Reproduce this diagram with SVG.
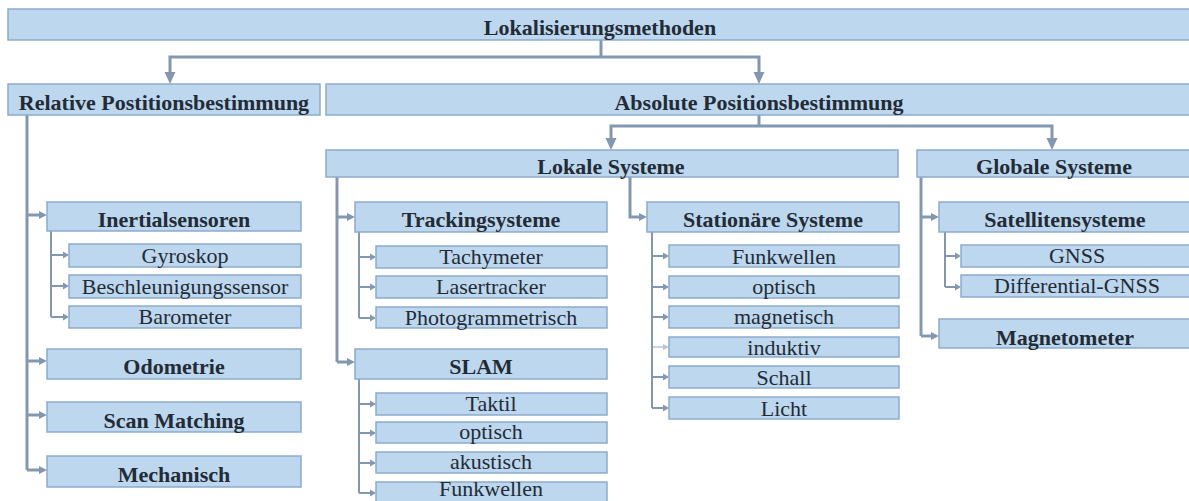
<svg xmlns="http://www.w3.org/2000/svg" width="1189" height="501" viewBox="0 0 1189 501">
  <style>
    .box { fill: #bdd7ee; stroke: #8eaacb; stroke-width: 1.5; }
    .h { font-family: "Liberation Serif", "Times New Roman", serif; font-weight: bold; font-size: 22px; fill: #232b36; text-anchor: middle; }
    .s { font-family: "Liberation Serif", "Times New Roman", serif; font-size: 22px; fill: #232b36; text-anchor: middle; }
    .conn { fill: none; stroke: #8497b0; stroke-width: 3; stroke-linejoin: miter; }
    .thin { stroke-width: 2; }
    .faint { stroke: #c9d3df; }
  </style>
  <defs>
    <marker id="ah-big" markerUnits="userSpaceOnUse" markerWidth="12" markerHeight="12" viewBox="0 -6 12 12" refX="0" refY="0" orient="auto" overflow="visible">
      <path d="M0,-5.5 L12,0 L0,5.5z" fill="#8497b0"/>
    </marker>
    <marker id="ah-mid" markerUnits="userSpaceOnUse" markerWidth="8" markerHeight="8" viewBox="0 -4 8 8" refX="0" refY="0" orient="auto" overflow="visible">
      <path d="M0,-4 L8,0 L0,4z" fill="#8497b0"/>
    </marker>
    <marker id="ah-small" markerUnits="userSpaceOnUse" markerWidth="6" markerHeight="6" viewBox="0 -3 6 6" refX="0" refY="0" orient="auto" overflow="visible">
      <path d="M0,-3.5 L6,0 L0,3.5z" fill="#8497b0"/>
    </marker>
    <marker id="ah-faint" markerUnits="userSpaceOnUse" markerWidth="6" markerHeight="6" viewBox="0 -3 6 6" refX="0" refY="0" orient="auto" overflow="visible">
      <path d="M0,-3 L6,0 L0,3z" fill="#b7c3d2"/>
    </marker>
  </defs>

  <!-- connectors -->
  <g id="connectors">
    <!-- root to the two main branches -->
    <path class="conn" d="M601,40 V57"/>
    <path class="conn" d="M601,57 H170 V72" marker-end="url(#ah-big)"/>
    <path class="conn" d="M601,57 H759 V72" marker-end="url(#ah-big)"/>
    <!-- absolute to local / global -->
    <path class="conn" d="M759,115 V126"/>
    <path class="conn" d="M759,126 H611 V138" marker-end="url(#ah-big)"/>
    <path class="conn" d="M759,126 H1052 V138" marker-end="url(#ah-big)"/>

    <!-- relative positioning column -->
    <path class="conn" d="M27,115 V470"/>
    <path class="conn" d="M27,215 H39" marker-end="url(#ah-mid)"/>
    <path class="conn" d="M27,361 H39" marker-end="url(#ah-mid)"/>
    <path class="conn" d="M27,415 H39" marker-end="url(#ah-mid)"/>
    <path class="conn" d="M27,470 H39" marker-end="url(#ah-mid)"/>
    <!-- inertial sensors -->
    <path class="conn thin" d="M51,231 V317"/>
    <path class="conn thin" d="M51,255 H63" marker-end="url(#ah-small)"/>
    <path class="conn thin" d="M51,286 H63" marker-end="url(#ah-small)"/>
    <path class="conn thin" d="M51,317 H63" marker-end="url(#ah-small)"/>

    <!-- local systems -->
    <path class="conn" d="M337,177 V362"/>
    <path class="conn" d="M337,217 H347" marker-end="url(#ah-mid)"/>
    <path class="conn" d="M337,362 H347" marker-end="url(#ah-mid)"/>
    <path class="conn" d="M630,177 V217 H639" marker-end="url(#ah-mid)"/>
    <!-- tracking systems -->
    <path class="conn thin" d="M359,232 V318"/>
    <path class="conn thin" d="M359,257 H370" marker-end="url(#ah-small)"/>
    <path class="conn thin" d="M359,287 H370" marker-end="url(#ah-small)"/>
    <path class="conn thin" d="M359,318 H370" marker-end="url(#ah-small)"/>
    <!-- SLAM -->
    <path class="conn thin" d="M359,379 V493"/>
    <path class="conn thin" d="M359,404 H370" marker-end="url(#ah-small)"/>
    <path class="conn thin" d="M359,433 H370" marker-end="url(#ah-small)"/>
    <path class="conn thin" d="M359,463 H370" marker-end="url(#ah-small)"/>
    <path class="conn thin" d="M359,493 H370" marker-end="url(#ah-small)"/>
    <!-- stationary systems -->
    <path class="conn thin" d="M652,232 V408"/>
    <path class="conn thin" d="M652,256 H663" marker-end="url(#ah-small)"/>
    <path class="conn thin" d="M652,287 H663" marker-end="url(#ah-small)"/>
    <path class="conn thin" d="M652,317 H663" marker-end="url(#ah-small)"/>
    <path class="conn thin faint" d="M653,347 H663" marker-end="url(#ah-faint)"/>
    <path class="conn thin" d="M652,377 H663" marker-end="url(#ah-small)"/>
    <path class="conn thin" d="M652,408 H663" marker-end="url(#ah-small)"/>

    <!-- global systems -->
    <path class="conn" d="M921,177 V336"/>
    <path class="conn" d="M921,217 H931" marker-end="url(#ah-mid)"/>
    <path class="conn" d="M921,336 H931" marker-end="url(#ah-mid)"/>
    <!-- satellite systems -->
    <path class="conn thin" d="M945,232 V287"/>
    <path class="conn thin" d="M945,256 H955" marker-end="url(#ah-small)"/>
    <path class="conn thin" d="M945,287 H955" marker-end="url(#ah-small)"/>
  </g>

  <!-- nodes -->
  <g id="root"><rect class="box" x="8" y="9" width="1190" height="31"/><text class="h" x="600" y="35">Lokalisierungsmethoden</text></g>

  <g id="relative"><rect class="box" x="8" y="84" width="312" height="31"/><text class="h" x="164" y="110">Relative Postitionsbestimmung</text></g>
  <g id="absolute"><rect class="box" x="326" y="84" width="870" height="31"/><text class="h" x="759" y="110">Absolute Positionsbestimmung</text></g>

  <g id="inertial"><rect class="box" x="47" y="202" width="254" height="29"/><text class="h" x="174" y="227">Inertialsensoren</text></g>
  <g id="gyro"><rect class="box" x="69" y="244" width="232" height="23"/><text class="s" x="185" y="263">Gyroskop</text></g>
  <g id="accel"><rect class="box" x="69" y="275" width="232" height="23"/><text class="s" x="185" y="294">Beschleunigungssensor</text></g>
  <g id="baro"><rect class="box" x="69" y="306" width="232" height="22"/><text class="s" x="185" y="324">Barometer</text></g>
  <g id="odometry"><rect class="box" x="47" y="349" width="254" height="30"/><text class="h" x="174" y="374">Odometrie</text></g>
  <g id="scanmatch"><rect class="box" x="47" y="402" width="254" height="30"/><text class="h" x="174" y="428">Scan Matching</text></g>
  <g id="mechanical"><rect class="box" x="47" y="456" width="254" height="31"/><text class="h" x="174" y="482">Mechanisch</text></g>

  <g id="local"><rect class="box" x="326" y="150" width="572" height="27"/><text class="h" x="611" y="174">Lokale Systeme</text></g>
  <g id="global"><rect class="box" x="917" y="150" width="280" height="27"/><text class="h" x="1054" y="174">Globale Systeme</text></g>

  <g id="tracking"><rect class="box" x="355" y="202" width="252" height="30"/><text class="h" x="481" y="227">Trackingsysteme</text></g>
  <g id="tachy"><rect class="box" x="376" y="246" width="231" height="22"/><text class="s" x="491" y="264">Tachymeter</text></g>
  <g id="lasertracker"><rect class="box" x="376" y="276" width="231" height="22"/><text class="s" x="491" y="294">Lasertracker</text></g>
  <g id="photogram"><rect class="box" x="376" y="307" width="231" height="21"/><text class="s" x="491" y="325">Photogrammetrisch</text></g>

  <g id="slam"><rect class="box" x="355" y="349" width="252" height="30"/><text class="h" x="481" y="374">SLAM</text></g>
  <g id="slam-tactile"><rect class="box" x="376" y="393" width="231" height="22"/><text class="s" x="491" y="411">Taktil</text></g>
  <g id="slam-optical"><rect class="box" x="376" y="422" width="231" height="21"/><text class="s" x="491" y="439">optisch</text></g>
  <g id="slam-acoustic"><rect class="box" x="376" y="452" width="231" height="21"/><text class="s" x="491" y="469">akustisch</text></g>
  <g id="slam-radio"><rect class="box" x="376" y="482" width="231" height="22"/><text class="s" x="491" y="496">Funkwellen</text></g>

  <g id="stationary"><rect class="box" x="647" y="202" width="252" height="30"/><text class="h" x="773" y="227">Stationäre Systeme</text></g>
  <g id="st-radio"><rect class="box" x="669" y="245" width="230" height="22"/><text class="s" x="784" y="264">Funkwellen</text></g>
  <g id="st-optical"><rect class="box" x="669" y="276" width="230" height="22"/><text class="s" x="784" y="294">optisch</text></g>
  <g id="st-magnetic"><rect class="box" x="669" y="306" width="230" height="22"/><text class="s" x="784" y="324">magnetisch</text></g>
  <g id="st-inductive"><rect class="box" x="669" y="337" width="230" height="20"/><text class="s" x="784" y="355">induktiv</text></g>
  <g id="st-sound"><rect class="box" x="669" y="366" width="230" height="22"/><text class="s" x="784" y="385">Schall</text></g>
  <g id="st-light"><rect class="box" x="669" y="397" width="230" height="22"/><text class="s" x="784" y="416">Licht</text></g>

  <g id="satellite"><rect class="box" x="939" y="202" width="260" height="30"/><text class="h" x="1065" y="227">Satellitensysteme</text></g>
  <g id="gnss"><rect class="box" x="961" y="245" width="235" height="22"/><text class="s" x="1077" y="263">GNSS</text></g>
  <g id="dgnss"><rect class="box" x="961" y="275" width="235" height="22"/><text class="s" x="1077" y="293">Differential-GNSS</text></g>
  <g id="magnetometer"><rect class="box" x="939" y="319" width="260" height="29"/><text class="h" x="1065" y="345">Magnetometer</text></g>
</svg>
